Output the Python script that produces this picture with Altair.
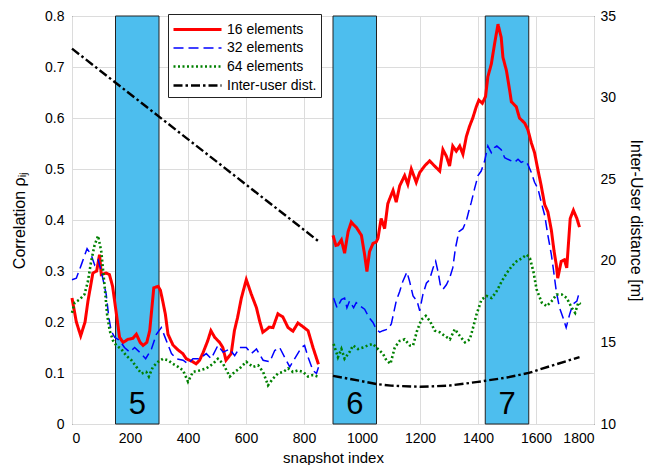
import altair as alt
import pandas as pd

# ---------------- data ----------------
r16_x = [0, 15, 30, 45, 55, 72, 85, 95, 101, 118, 129, 140, 147, 164, 176, 193, 210, 222, 235, 245, 258, 268,
         282, 297, 305, 314, 322, 331, 348, 364, 382, 394, 405, 417, 428, 440, 452, 468, 479, 492, 509, 520,
         531, 542, 549, 560, 571, 584, 601, 618, 636, 647, 658, 670, 680, 693, 710, 727, 745, 762, 779, 796,
         814, 831, 850,
         900, 910, 917, 929, 940, 952, 963, 972, 980, 998, 1009, 1017, 1026, 1038, 1049, 1055, 1066, 1078,
         1089, 1095, 1107, 1118, 1130, 1147, 1158, 1170, 1187, 1199, 1216, 1233, 1250, 1268, 1279, 1291,
         1302, 1313, 1325, 1337, 1348, 1360, 1371, 1382, 1394, 1403, 1415, 1426, 1434, 1446, 1457, 1469,
         1480, 1486, 1498, 1509, 1515, 1532, 1543, 1561, 1572, 1584, 1595, 1606, 1618, 1630, 1641, 1653,
         1662, 1670, 1675, 1687, 1698, 1706, 1718, 1729, 1741, 1750]
r16_y = [0.247, 0.200, 0.173, 0.200, 0.241, 0.296, 0.300, 0.332, 0.293, 0.296, 0.293, 0.270, 0.241, 0.170,
         0.160, 0.166, 0.168, 0.176, 0.160, 0.154, 0.160, 0.183, 0.267, 0.270, 0.262, 0.238, 0.215, 0.176,
         0.155, 0.146, 0.138, 0.128, 0.125, 0.122, 0.118, 0.125, 0.140, 0.163, 0.183, 0.170, 0.160, 0.150,
         0.125, 0.133, 0.138, 0.183, 0.209, 0.247, 0.283, 0.255, 0.228, 0.202, 0.180, 0.185, 0.190, 0.189,
         0.216, 0.210, 0.189, 0.182, 0.198, 0.191, 0.183, 0.150, 0.117,
         0.370, 0.350, 0.351, 0.361, 0.335, 0.377, 0.396, 0.390, 0.386, 0.370, 0.332, 0.299, 0.338, 0.354,
         0.357, 0.364, 0.403, 0.383, 0.432, 0.441, 0.458, 0.435, 0.467, 0.487, 0.470, 0.500, 0.474, 0.493,
         0.506, 0.516, 0.506, 0.496, 0.538, 0.525, 0.506, 0.545, 0.535, 0.545, 0.529, 0.564, 0.584, 0.600,
         0.622, 0.635, 0.629, 0.642, 0.681, 0.706, 0.745, 0.784, 0.758, 0.719, 0.693, 0.655, 0.632, 0.622,
         0.600, 0.590, 0.577, 0.551, 0.532, 0.500, 0.467, 0.430, 0.416, 0.380, 0.340, 0.312, 0.286, 0.319,
         0.322, 0.306, 0.403, 0.419, 0.403, 0.386]

r32_x = [0, 15, 32, 52, 66, 78, 90, 101, 118, 127, 135, 147, 164, 181, 199, 216, 233, 254, 274, 291, 308,
         325, 343, 360, 383, 400, 417, 440, 463, 480, 503, 521, 544, 561, 578, 601, 618, 636, 659, 682, 699,
         716, 733, 751, 768, 791, 802, 814, 831, 843, 852,
         902, 914, 929, 940, 948, 957, 971, 980, 994, 1009, 1024, 1038, 1049, 1061, 1072, 1089, 1101, 1118,
         1130, 1141, 1155, 1164, 1176, 1190, 1199, 1210, 1222, 1233, 1245, 1254, 1262, 1270, 1279, 1291,
         1302, 1313, 1322, 1334, 1348, 1360, 1369, 1377, 1388, 1400, 1411, 1423, 1434, 1446, 1457, 1465,
         1480, 1492, 1503, 1515, 1526, 1538, 1549, 1561, 1572, 1584, 1595, 1607, 1618, 1630, 1641, 1653,
         1661, 1670, 1681, 1693, 1704, 1716, 1727, 1741, 1750]
r32_y = [0.283, 0.286, 0.312, 0.344, 0.332, 0.312, 0.322, 0.299, 0.254, 0.209, 0.183, 0.170, 0.164, 0.150,
         0.141, 0.150, 0.141, 0.128, 0.147, 0.176, 0.189, 0.164, 0.138, 0.128, 0.125, 0.118, 0.128, 0.128,
         0.138, 0.128, 0.154, 0.141, 0.147, 0.134, 0.150, 0.150, 0.138, 0.147, 0.125, 0.122, 0.144, 0.150,
         0.131, 0.112, 0.128, 0.150, 0.154, 0.131, 0.105, 0.099, 0.115,
         0.247, 0.228, 0.244, 0.247, 0.228, 0.241, 0.228, 0.238, 0.231, 0.225, 0.209, 0.199, 0.186, 0.180,
         0.183, 0.186, 0.196, 0.241, 0.260, 0.280, 0.298, 0.280, 0.251, 0.241, 0.222, 0.254, 0.276, 0.283,
         0.306, 0.319, 0.299, 0.273, 0.264, 0.273, 0.286, 0.306, 0.344, 0.377, 0.383, 0.399, 0.419, 0.435,
         0.461, 0.487, 0.496, 0.516, 0.545, 0.532, 0.542, 0.545, 0.538, 0.522, 0.519, 0.516, 0.513, 0.519,
         0.513, 0.516, 0.509, 0.493, 0.474, 0.461, 0.435, 0.409, 0.370, 0.332, 0.299, 0.260, 0.228, 0.209,
         0.189, 0.215, 0.235, 0.241, 0.260]

r64_x = [0, 9, 26, 43, 55, 66, 78, 90, 101, 113, 121, 130, 141, 153, 170, 187, 205, 222, 239, 256, 265, 279,
         297, 314, 331, 348, 366, 383, 400, 417, 440, 463, 486, 503, 521, 544, 561, 578, 601, 624, 642, 659,
         676, 693, 710, 728, 745, 762, 779, 797, 814, 831, 848,
         902, 917, 929, 940, 957, 969, 986, 1003, 1020, 1038, 1055, 1072, 1084, 1098, 1113, 1130, 1147, 1165,
         1176, 1190, 1205, 1220, 1234, 1251, 1268, 1285, 1303, 1320, 1337, 1355, 1372, 1383, 1395, 1412,
         1430, 1447, 1464, 1482, 1499, 1516, 1533, 1551, 1568, 1579, 1591, 1602, 1620, 1637, 1654, 1671,
         1689, 1706, 1723, 1735, 1746, 1754]
r64_y = [0.218, 0.238, 0.244, 0.254, 0.280, 0.319, 0.351, 0.369, 0.338, 0.267, 0.215, 0.183, 0.164, 0.154,
         0.147, 0.134, 0.125, 0.112, 0.099, 0.102, 0.093, 0.112, 0.122, 0.128, 0.125, 0.118, 0.112, 0.105,
         0.083, 0.102, 0.105, 0.109, 0.118, 0.128, 0.118, 0.093, 0.102, 0.109, 0.122, 0.112, 0.115, 0.102,
         0.076, 0.089, 0.099, 0.102, 0.109, 0.102, 0.105, 0.102, 0.093, 0.096, 0.093,
         0.157, 0.131, 0.147, 0.128, 0.141, 0.154, 0.147, 0.150, 0.154, 0.157, 0.147, 0.138, 0.125, 0.118,
         0.150, 0.163, 0.166, 0.154, 0.154, 0.183, 0.205, 0.212, 0.202, 0.183, 0.180, 0.173, 0.166, 0.186,
         0.173, 0.160, 0.166, 0.189, 0.215, 0.244, 0.251, 0.247, 0.260, 0.280, 0.296, 0.309, 0.319, 0.325,
         0.332, 0.325, 0.299, 0.264, 0.238, 0.231, 0.241, 0.254, 0.254, 0.247, 0.228, 0.218, 0.238, 0.235]

dist_x = [0, 425, 850, 900, 1000, 1050, 1100, 1200, 1300, 1400, 1500, 1575, 1650, 1750]
dist_y = [33.0, 27.1, 21.2, 12.95, 12.62, 12.45, 12.35, 12.28, 12.35, 12.58, 12.85, 13.13, 13.55, 14.1]

band_start = [150, 900, 1425]
band_end = [300, 1050, 1575]
band_label = ["5", "6", "7"]

series_names = ["16 elements", "32 elements", "64 elements", "Inter-user dist."]
series_colors = ["#ff0000", "#0000ff", "#008000", "#000000"]
series_dash = [[1, 0], [10, 5], [2, 2.5], [9, 3, 2.5, 3]]
series_width = [3, 1.5, 2.6, 2.4]

# ---------------- tables ----------------
def build(name, xs, ys):
    return pd.DataFrame({"series": name, "x": xs, "y": ys,
                         "seg": ["a" if v < 875 else "b" for v in xs]})

corr_df = pd.concat([build(series_names[0], r16_x, r16_y),
                     build(series_names[1], r32_x, r32_y),
                     build(series_names[2], r64_x, r64_y)], ignore_index=True)
dist_df = build(series_names[3], dist_x, dist_y)
band_df = pd.DataFrame({"start": band_start, "end": band_end, "label": band_label,
                        "mid": [(a + b) / 2 for a, b in zip(band_start, band_end)]})

FONT = "Liberation Sans"

xscale = alt.Scale(domain=[0, 1800], nice=False)
xaxis = alt.Axis(values=list(range(0, 1801, 200)), title="snapshot index", grid=True, format="d",
                 ticks=False, domain=False, labelPadding=7, titleY=26, titleBaseline="top",
                 titleFontSize=15)
yscale = alt.Scale(domain=[0, 0.8], nice=False)
yaxis = alt.Axis(values=[round(i * 0.1, 1) for i in range(9)], title="Correlation ρᵢⱼ", grid=True,
                 ticks=False, domain=False, labelPadding=8, titlePadding=17, format=".1~f")

color_enc = alt.Color("series:N", scale=alt.Scale(domain=series_names, range=series_colors),
                      legend=alt.Legend(title=None, orient="none", legendX=96, legendY=-2,
                                        symbolType="M-1,0H3.8", symbolSize=400, symbolStrokeWidth=2.2,
                                        labelOffset=32, labelFontSize=14, labelFont=FONT, rowPadding=0,
                                        fillColor="white", strokeColor="#222", padding=4,
                                        labelColor="black", labelLimit=200))
dash_enc = alt.StrokeDash("series:N", scale=alt.Scale(domain=series_names, range=series_dash),
                          legend=None)
width_enc = alt.StrokeWidth("series:N",
                            scale=alt.Scale(type="ordinal", domain=series_names, range=series_width),
                            legend=None)

bands = alt.Chart(band_df).mark_rect(color="#4DBEEE", stroke="#222", strokeWidth=1, opacity=1).encode(
    x=alt.X("start:Q", scale=xscale, axis=xaxis),
    x2="end:Q",
    y=alt.datum(0, scale=yscale, axis=yaxis),
    y2=alt.datum(0.8),
)

band_text = alt.Chart(band_df).mark_text(fontSize=31, font=FONT, color="black", baseline="middle").encode(
    x=alt.X("mid:Q", scale=xscale, axis=xaxis),
    y=alt.datum(0.037, scale=yscale, axis=yaxis),
    text="label:N",
)

corr_lines = alt.Chart(corr_df).mark_line(strokeCap="butt").encode(
    x=alt.X("x:Q", scale=xscale, axis=xaxis),
    y=alt.Y("y:Q", scale=yscale, axis=yaxis),
    color=color_enc,
    strokeDash=dash_enc,
    strokeWidth=width_enc,
    detail="seg:N",
    order="x:Q",
)

left = alt.layer(bands, corr_lines, band_text)

dist_line = alt.Chart(dist_df).mark_line(strokeCap="butt").encode(
    x=alt.X("x:Q", scale=xscale, axis=xaxis),
    y=alt.Y("y:Q", scale=alt.Scale(domain=[10, 35], nice=False),
            axis=alt.Axis(orient="right", values=[10, 15, 20, 25, 30, 35], title="Inter-User distance [m]",
                          grid=False, ticks=False, domain=False, labelPadding=6, titlePadding=12)),
    color=color_enc,
    strokeDash=dash_enc,
    strokeWidth=width_enc,
    detail="seg:N",
    order="x:Q",
)

chart = alt.layer(left, dist_line).resolve_scale(y="independent").properties(
    width=522, height=408,
    autosize=alt.AutoSizeParams(type="none"),
    padding={"left": 64, "top": 8, "right": 50, "bottom": 41},
    background="white",
).configure_view(stroke="black", strokeWidth=1).configure_axis(
    labelFont=FONT, titleFont=FONT, labelFontSize=14, titleFontSize=16, labelColor="black",
    titleColor="black", titleFontWeight="normal", gridColor="#dcdcdc", gridWidth=1,
)

chart.save("out.html", embed_options={"renderer": "svg", "actions": False})
